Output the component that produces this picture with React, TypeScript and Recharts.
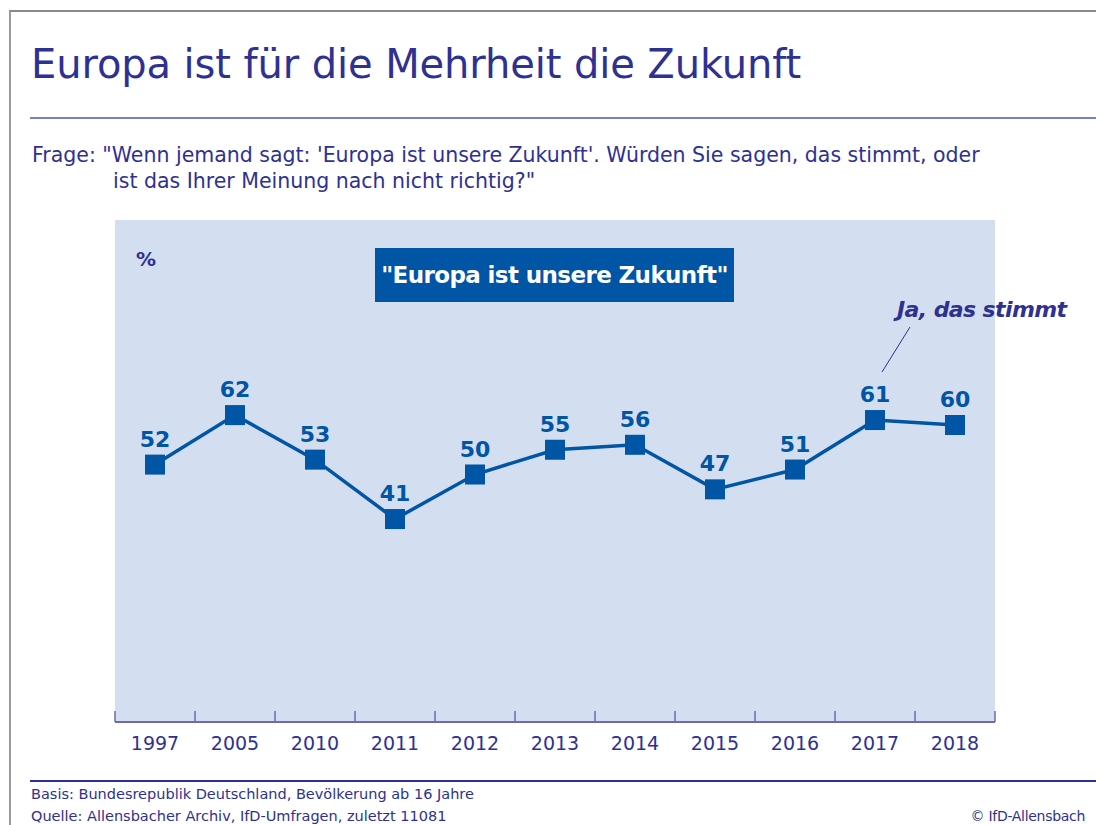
import { LineChart, Line, XAxis, YAxis, LabelList } from "recharts"

const years = ["1997", "2005", "2010", "2011", "2012", "2013", "2014", "2015", "2016", "2017", "2018"]
const jaValues = [52, 62, 53, 41, 50, 55, 56, 47, 51, 61, 60]

const data = years.map((year, i) => ({ year, ja: jaValues[i] }))

const INK = "#2e3192"
const BLUE = "#0055a5"
const FONT = "'DejaVu Sans', sans-serif"

const PLOT_LEFT = 115
const PLOT_W = 880
const STEP = PLOT_W / years.length

function SquareDot(props: any) {
  const { cx, cy } = props
  if (cx == null || cy == null) return null
  return <rect x={cx - 10} y={cy - 10} width={20} height={20} fill={BLUE} />
}

function YearTick(props: any) {
  const { x, y, payload, index } = props
  const last = index === years.length - 1
  return (
    <g>
      <line x1={x - STEP / 2} x2={x - STEP / 2} y1={y - 11} y2={y} stroke="#6b6bb5" strokeWidth={1.5} />
      {last && (
        <line x1={x + STEP / 2} x2={x + STEP / 2} y1={y - 11} y2={y} stroke="#6b6bb5" strokeWidth={1.5} />
      )}
      <text x={x} y={y + 28} textAnchor="middle" fill={INK} fontSize={19} fontFamily={FONT}>
        {payload.value}
      </text>
    </g>
  )
}

export default function App() {
  return (
    <div style={{ position: "absolute", left: 0, top: 0, width: 1096, height: 825, background: "#fff", fontFamily: FONT, overflow: "hidden" }}>
      {/* frame */}
      <div style={{ position: "absolute", left: 9, top: 10, width: 1100, height: 830, borderLeft: "2px solid #9a9a9a", borderTop: "2px solid #8a8a8a" }} />
      <div style={{ position: "absolute", left: 31, top: 41, fontSize: 40, color: INK, whiteSpace: "nowrap", letterSpacing: -0.1 }}>
        Europa ist für die Mehrheit die Zukunft
      </div>
      <div style={{ position: "absolute", left: 30, top: 117, width: 1070, height: 2, background: "#7b80c2" }} />
      <div style={{ position: "absolute", left: 32, top: 142, fontSize: 20.5, color: INK, whiteSpace: "nowrap", lineHeight: "26px" }}>
        Frage: "Wenn jemand sagt: 'Europa ist unsere Zukunft'. Würden Sie sagen, das stimmt, oder
        <br />
        <span style={{ paddingLeft: 81 }}>ist das Ihrer Meinung nach nicht richtig?"</span>
      </div>

      {/* plot background */}
      <div style={{ position: "absolute", left: PLOT_LEFT, top: 220, width: PLOT_W, height: 502, background: "#d3dff0" }} />
      <div style={{ position: "absolute", left: 136, top: 247, fontSize: 20, fontWeight: "bold", color: INK }}>%</div>
      <div style={{ position: "absolute", left: 375, top: 248, width: 359, height: 54, background: BLUE, color: "#fff", fontWeight: "bold", fontSize: 23, display: "flex", alignItems: "center", justifyContent: "center", whiteSpace: "nowrap", letterSpacing: -0.6 }}>
        "Europa ist unsere Zukunft"
      </div>
      <div style={{ position: "absolute", left: 897, top: 297, fontSize: 22, fontWeight: "bold", fontStyle: "italic", color: INK, whiteSpace: "nowrap", letterSpacing: -0.6 }}>
        Ja, das stimmt
      </div>
      <svg style={{ position: "absolute", left: 0, top: 0 }} width={1096} height={825}>
        <line x1={910} y1={327} x2={882} y2={372} stroke={INK} strokeWidth={1} />
      </svg>

      <div style={{ position: "absolute", left: 0, top: 0 }}>
        <LineChart width={1096} height={825} data={data} margin={{ top: 227, right: 1096 - PLOT_LEFT - PLOT_W, bottom: 73, left: PLOT_LEFT }}>
          <XAxis
            dataKey="year"
            height={30}
            padding={{ left: STEP / 2, right: STEP / 2 }}
            axisLine={{ stroke: "#6b6bb5", strokeWidth: 2 }}
            tickLine={false}
            tickSize={0}
            tickMargin={0}
            interval={0}
            tick={<YearTick />}
          />
          <YAxis hide domain={[0, 100]} />
          <Line
            dataKey="ja"
            stroke={BLUE}
            strokeWidth={3.5}
            dot={<SquareDot />}
            activeDot={false}
            isAnimationActive={false}
          >
            <LabelList dataKey="ja" position="top" offset={18} fill={BLUE} fontSize={22} fontWeight="bold" fontFamily={FONT} />
          </Line>
        </LineChart>
      </div>

      <div style={{ position: "absolute", left: 30, top: 780, width: 1070, height: 2, background: INK }} />
      <div style={{ position: "absolute", left: 31, top: 783, fontSize: 14.5, color: INK, whiteSpace: "nowrap", lineHeight: "22px" }}>
        Basis: Bundesrepublik Deutschland, Bevölkerung ab 16 Jahre
        <br />
        Quelle: Allensbacher Archiv, IfD-Umfragen, zuletzt 11081
      </div>
      <div style={{ position: "absolute", right: 11, top: 805, fontSize: 14, color: INK, whiteSpace: "nowrap", lineHeight: "22px", letterSpacing: -0.3 }}>
        © IfD-Allensbach
      </div>
    </div>
  )
}
